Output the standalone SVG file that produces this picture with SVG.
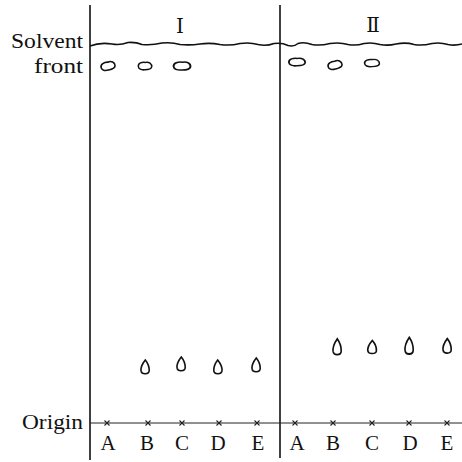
<svg xmlns="http://www.w3.org/2000/svg" width="462" height="462" viewBox="0 0 462 462">
<style>
.frame{stroke:#111;stroke-width:1.6;fill:none}
.thin{stroke:#222;stroke-width:1.1;fill:none}
.spot{stroke:#111;stroke-width:1.6;fill:#fff}
.mk{stroke:#222;stroke-width:1.1}
</style>
<defs>
<path id="top" d="M-7,0.5 C-7.5,-3 -3,-4.5 0.5,-3.8 C4,-4.8 7.5,-2.4 7,1 C6.4,4.2 1.8,4 -0.5,4 C-4,4.4 -6.8,3 -7,0.5 Z"/>
<path id="drop" d="M0.3,-8 C2.6,-5.2 4.4,-1.8 4.2,2.8 C4,6.6 -3.2,6.8 -3.9,3.2 C-4.6,-0.9 -2.3,-4.8 0.3,-8 Z"/>
<g id="x"><line class="mk" x1="-2.5" y1="-2.5" x2="2.5" y2="2.5"/><line class="mk" x1="-2.5" y1="2.5" x2="2.5" y2="-2.5"/></g>
</defs>
<rect width="462" height="462" fill="#fff"/>
<g id="connectors">
<line id="leftEdge" class="frame" x1="90" y1="5" x2="90" y2="460"/>
<line id="divider" class="frame" x1="280" y1="5" x2="280" y2="458"/>
<path id="solventFront" class="frame" stroke-width="1.4" d="M90,46 Q100,42 112,44 Q120,45.5 128,42.5 Q136,42 142,44.5 Q152,45.5 162,43 Q172,42 180,44.5 Q190,45.5 200,44 Q210,42.5 220,44.5 Q230,46 240,43.5 Q250,42 258,44.5 Q266,46.5 274,43.5 Q282,42.5 288,45.5 Q294,47 298,43.5 Q304,41.5 312,44.5 Q320,46 330,43.5 Q340,42 348,44.5 Q356,46 364,43.5 Q372,42 380,44.5 Q388,46 396,44 Q406,42 414,44.5 Q422,46 432,43.5 Q440,42 448,44.5 Q455,46 462,44"/>
<line id="originLine" class="thin" x1="90" y1="423" x2="462" y2="423"/>
</g>
<g id="labels">
<text font-family="Liberation Serif" font-size="21" fill="#111" x="83" y="48" text-anchor="end" textLength="72" lengthAdjust="spacingAndGlyphs">Solvent</text>
<text font-family="Liberation Serif" font-size="21" fill="#111" x="83" y="73" text-anchor="end" textLength="49" lengthAdjust="spacingAndGlyphs">front</text>
<text font-family="Liberation Serif" font-size="21" fill="#111" x="83" y="429" text-anchor="end" textLength="61" lengthAdjust="spacingAndGlyphs">Origin</text>
<text font-family="DejaVu Serif" font-size="20" fill="#111" x="180" y="33" text-anchor="middle">Ⅰ</text>
<text font-family="DejaVu Serif" font-size="20" fill="#111" x="373" y="32" text-anchor="middle">Ⅱ</text>
</g>
<g id="lane-I">
<use href="#x" x="107" y="423"/><use href="#x" x="148" y="423"/><use href="#x" x="182" y="423"/><use href="#x" x="219" y="423"/><use href="#x" x="257" y="423"/>
<text font-family="Liberation Serif" font-size="21" fill="#111" x="108" y="450" text-anchor="middle">A</text>
<text font-family="Liberation Serif" font-size="21" fill="#111" x="147" y="450" text-anchor="middle">B</text>
<text font-family="Liberation Serif" font-size="21" fill="#111" x="182" y="450" text-anchor="middle">C</text>
<text font-family="Liberation Serif" font-size="21" fill="#111" x="218" y="450" text-anchor="middle">D</text>
<text font-family="Liberation Serif" font-size="21" fill="#111" x="258" y="450" text-anchor="middle">E</text>
<use class="spot" href="#top" transform="translate(108,66) rotate(-10)"/>
<use class="spot" href="#top" transform="translate(145,66) scale(0.95)"/>
<use class="spot" href="#top" transform="translate(182,66) scale(1.2,1)"/>
<use class="spot" href="#drop" transform="translate(145,368)"/>
<use class="spot" href="#drop" transform="translate(181,365)"/>
<use class="spot" href="#drop" transform="translate(218,368) scale(-1,1)"/>
<use class="spot" href="#drop" transform="translate(256,366)"/>
</g>
<g id="lane-II">
<use href="#x" x="295" y="423"/><use href="#x" x="333" y="423"/><use href="#x" x="372" y="423"/><use href="#x" x="409" y="423"/><use href="#x" x="447" y="423"/>
<text font-family="Liberation Serif" font-size="21" fill="#111" x="297" y="450" text-anchor="middle">A</text>
<text font-family="Liberation Serif" font-size="21" fill="#111" x="333" y="450" text-anchor="middle">B</text>
<text font-family="Liberation Serif" font-size="21" fill="#111" x="372" y="450" text-anchor="middle">C</text>
<text font-family="Liberation Serif" font-size="21" fill="#111" x="410" y="450" text-anchor="middle">D</text>
<text font-family="Liberation Serif" font-size="21" fill="#111" x="447" y="450" text-anchor="middle">E</text>
<use class="spot" href="#top" transform="translate(297,62) scale(1.15,0.95)"/>
<use class="spot" href="#top" transform="translate(335,65) rotate(-12)"/>
<use class="spot" href="#top" transform="translate(372,63) scale(1.05,0.9)"/>
<use class="spot" href="#drop" transform="translate(337,348) scale(1,1.15)"/>
<use class="spot" href="#drop" transform="translate(372,348) scale(1.05,0.95)"/>
<use class="spot" href="#drop" transform="translate(409,347) scale(1,1.2)"/>
<use class="spot" href="#drop" transform="translate(447,347) scale(1,1.05)"/>
</g>
</svg>
